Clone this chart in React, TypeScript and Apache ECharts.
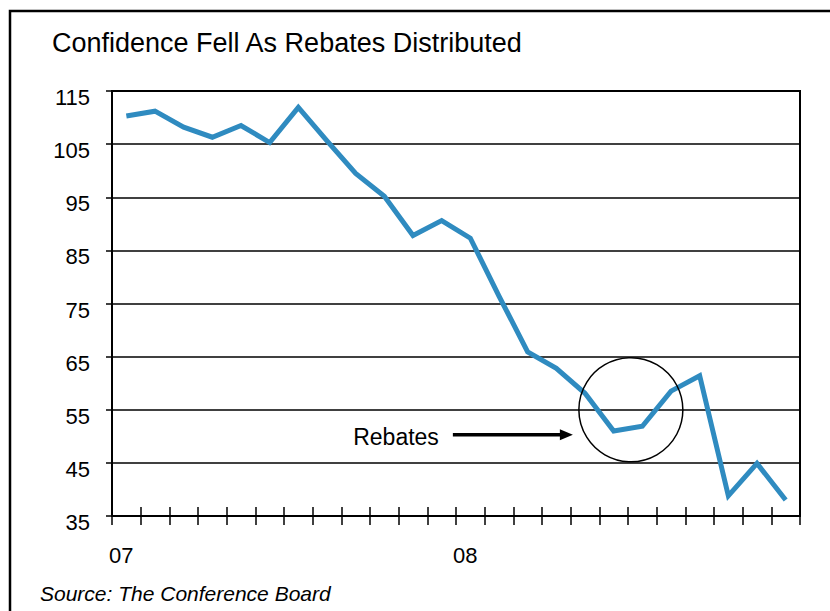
import React, { useEffect, useRef } from "react";
import * as echarts from "echarts";

// Monthly Consumer Confidence Index, Jan 2007 – Dec 2008
const months = [
  "Jan 07", "Feb 07", "Mar 07", "Apr 07", "May 07", "Jun 07",
  "Jul 07", "Aug 07", "Sep 07", "Oct 07", "Nov 07", "Dec 07",
  "Jan 08", "Feb 08", "Mar 08", "Apr 08", "May 08", "Jun 08",
  "Jul 08", "Aug 08", "Sep 08", "Oct 08", "Nov 08", "Dec 08",
];
const confidence = [
  110.3, 111.2, 108.2, 106.3, 108.5, 105.3,
  111.9, 105.6, 99.5, 95.2, 87.8, 90.6,
  87.3, 76.4, 65.9, 62.8, 58.1, 51.0,
  51.9, 58.5, 61.4, 38.8, 44.9, 38.0,
];
// Year labels shown under January of each year
const yearLabels: Record<number, string> = { 0: "07", 12: "08" };

const FONT = "'Liberation Sans', Arial, sans-serif";

export default function App() {
  const ref = useRef<HTMLDivElement>(null);

  useEffect(() => {
    document.body.style.margin = "0";
    const chart = echarts.init(ref.current!, null, { renderer: "svg" });
    const option: any = {
      animation: false,
      backgroundColor: "#ffffff",
      textStyle: { fontFamily: FONT },
      grid: {
        left: 112,
        right: 30,
        top: 91,
        bottom: 95,
        show: true,
        borderColor: "#000",
        borderWidth: 2,
      },
      xAxis: [
        {
          type: "category",
          data: months,
          boundaryGap: true,
          axisLine: { lineStyle: { color: "#000", width: 2 } },
          axisTick: { show: true, interval: 0, length: 9, lineStyle: { color: "#000", width: 1.5 } },
          axisLabel: {
            show: true,
            interval: 0,
            color: "#000",
            fontSize: 22,
            fontFamily: FONT,
            margin: 28,
            padding: [0, 10, 0, 0],
            formatter: (_v: string, i: number) => yearLabels[i] ?? "",
          },
          splitLine: { show: false },
        },
        {
          type: "value",
          min: 0,
          max: 24,
          interval: 1,
          position: "bottom",
          axisLine: { show: false },
          axisTick: { show: true, inside: true, length: 9, lineStyle: { color: "#000", width: 1.5 } },
          axisLabel: { show: false },
          splitLine: { show: false },
        },
      ],
      yAxis: {
        type: "value",
        min: 35,
        max: 115,
        interval: 10,
        axisLine: { show: true, lineStyle: { color: "#000", width: 2 } },
        axisTick: { show: true, length: 6, lineStyle: { color: "#000", width: 1.5 } },
        axisLabel: {
          color: "#000",
          fontSize: 22,
          fontFamily: FONT,
          margin: 22,
          verticalAlign: "top",
          lineHeight: 13,
        },
        splitLine: { show: true, lineStyle: { color: "#000", width: 1.5 } },
      },
      series: [
        {
          type: "line",
          data: confidence,
          xAxisIndex: 0,
          yAxisIndex: 0,
          symbol: "none",
          lineStyle: { color: "#2F8BC0", width: 5, join: "miter" },
          z: 5,
        },
      ],
    };
    chart.setOption(option);

    // Annotation placed relative to the data coordinates
    const center = chart.convertToPixel({ xAxisIndex: 1, yAxisIndex: 0 } as any, [18.1, 55]) as number[];
    const cx = center[0];
    const cy = center[1];
    const arrowY = cy + 25;
    const tipX = cx - 58;

    chart.setOption({
      graphic: [
        {
          type: "rect",
          shape: { x: 10, y: 11, width: 840, height: 640 },
          style: { fill: "none", stroke: "#000", lineWidth: 2.5 },
          silent: true,
        },
        {
          type: "text",
          x: 52,
          y: 43,
          style: {
            text: "Confidence Fell As Rebates Distributed",
            fill: "#000",
            font: `27px ${FONT}`,
            textVerticalAlign: "middle",
          },
        },
        {
          type: "text",
          x: 40,
          y: 593,
          style: {
            text: "Source: The Conference Board",
            fill: "#000",
            font: `italic 21px ${FONT}`,
            textVerticalAlign: "middle",
          },
        },
        {
          type: "circle",
          shape: { cx, cy, r: 52 },
          style: { fill: "none", stroke: "#000", lineWidth: 1.5 },
          z: 10,
        },
        {
          type: "text",
          x: tipX - 134,
          y: arrowY + 2,
          style: {
            text: "Rebates",
            fill: "#000",
            font: `23px ${FONT}`,
            textAlign: "right",
            textVerticalAlign: "middle",
          },
        },
        {
          type: "line",
          shape: { x1: tipX - 120, y1: arrowY, x2: tipX - 10, y2: arrowY },
          style: { stroke: "#000", lineWidth: 3.5 },
        },
        {
          type: "polygon",
          shape: {
            points: [
              [tipX, arrowY],
              [tipX - 13, arrowY - 5.5],
              [tipX - 13, arrowY + 5.5],
            ],
          },
          style: { fill: "#000" },
        },
      ],
    });

    return () => chart.dispose();
  }, []);

  return <div ref={ref} style={{ width: 830, height: 611 }} />;
}
